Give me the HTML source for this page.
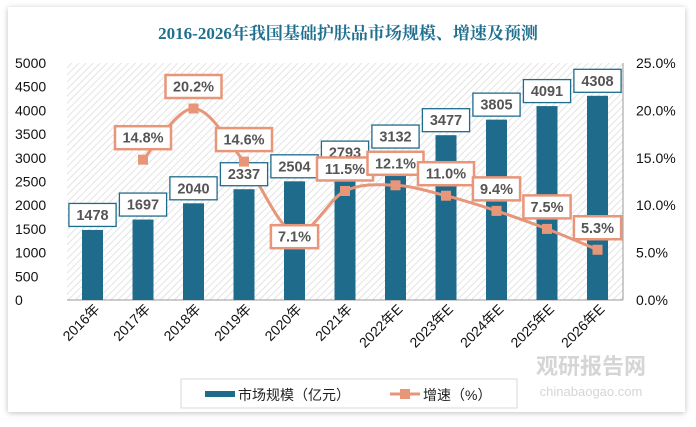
<!DOCTYPE html>
<html><head><meta charset="utf-8"><style>
body{margin:0;background:#fff;width:696px;height:422px;overflow:hidden;font-family:"Liberation Sans","Noto Sans CJK SC",sans-serif}
svg text{font-family:"Liberation Sans","Noto Sans CJK SC",sans-serif}
</style></head><body>
<svg id="c" width="696" height="422" xmlns="http://www.w3.org/2000/svg">
<defs>
<pattern id="hatch" width="5" height="5" patternUnits="userSpaceOnUse" patternTransform="rotate(45)">
<rect width="5" height="5" fill="#fff"/><line x1="0" y1="0" x2="0" y2="5" stroke="#d9d9d9" stroke-width="1.4"/></pattern>
<filter id="sh" x="-5%" y="-5%" width="110%" height="110%"><feDropShadow dx="0" dy="1" stdDeviation="3" flood-color="#000" flood-opacity="0.25"/></filter>
</defs>
<rect x="8" y="7" width="677" height="405" fill="#fff" filter="url(#sh)"/>
<text x="348" y="39" text-anchor="middle" font-size="17" font-weight="bold" fill="#1f6f8f" style="font-family:'Liberation Serif','Noto Serif CJK SC',serif">2016-2026年我国基础护肤品市场规模、增速及预测</text>
<rect x="67" y="63" width="556" height="237" fill="url(#hatch)"/>
<g id="g"></g>
<g>
<rect x="181" y="379" width="336" height="29" fill="#fff" stroke="#d9d9d9"/>
<rect x="205" y="391" width="30" height="6" fill="#1f6b8c"/>
<text x="238" y="400" font-size="14" fill="#222">市场规模（亿元）</text>
<line x1="390" y1="394" x2="420" y2="394" stroke="#e8967a" stroke-width="3"/>
<rect x="400" y="389" width="10" height="10" fill="#e8967a"/>
<text x="423" y="400" font-size="14" fill="#222">增速（%）</text>
</g>
<g opacity="0.35">
<text x="591" y="374" text-anchor="middle" font-size="22" font-weight="bold" fill="#888">观研报告网</text>
<text x="591" y="396" text-anchor="middle" font-size="13" fill="#888">chinabaogao.com</text>
</g>
</svg>
<script>
const categories=["2016年","2017年","2018年","2019年","2020年","2021年","2022年E","2023年E","2024年E","2025年E","2026年E"];
const marketSize=[1478,1697,2040,2337,2504,2793,3132,3477,3805,4091,4308];
const growth=[null,14.8,20.2,14.6,7.1,11.5,12.1,11.0,9.4,7.5,5.3];
const leftTicks=[0,500,1000,1500,2000,2500,3000,3500,4000,4500,5000];
const rightTicks=[0,5,10,15,20,25];
const NS="http://www.w3.org/2000/svg",g=document.getElementById('g');
const x=i=>92.5+50.5*i, yL=v=>300-v/5000*237, yR=v=>300-v/25*237;
function el(t,a,txt){const e=document.createElementNS(NS,t);for(const k in a)e.setAttribute(k,a[k]);if(txt!=null)e.textContent=txt;g.appendChild(e);return e;}
leftTicks.forEach(v=>{const e=el('text',{x:15,y:yL(v)+5,'font-size':14,fill:'#111'},v);});
rightTicks.forEach(v=>{const e=el('text',{x:636,y:yR(v)+5,'font-size':14,fill:'#111'},v.toFixed(1)+'%');});
const ax=el('line',{x1:67,y1:300,x2:623,y2:300,stroke:'#999'});
const ar=el('line',{x1:623,y1:63,x2:623,y2:300,stroke:'#999'});
categories.forEach((c,i)=>{
 const b=el('rect',{x:x(i)-10.5,y:yL(marketSize[i]),width:21,height:300-yL(marketSize[i]),fill:'#1f6b8c'});
 
 const t=el('text',{transform:`translate(${x(i)+8},310) rotate(-45)`,'text-anchor':'end','font-size':14,fill:'#111'},c);
 
});
const pts=growth.map((v,i)=>v==null?null:[x(i),yR(v)]).filter(p=>p);
let d='M'+pts[0];
for(let i=0;i<pts.length-1;i++){const p0=pts[Math.max(0,i-1)],p1=pts[i],p2=pts[i+1],p3=pts[Math.min(pts.length-1,i+2)];
 d+=` C${p1[0]+(p2[0]-p0[0])/6},${p1[1]+(p2[1]-p0[1])/6} ${p2[0]-(p3[0]-p1[0])/6},${p2[1]-(p3[1]-p1[1])/6} ${p2[0]},${p2[1]}`;}
const ln=el('path',{d:d,fill:'none',stroke:'#e8967a','stroke-width':3});
function box(cx,cy,txt,col,name){const w=txt.length*8.8+12;
 const r=el('rect',{x:cx-w/2,y:cy-11.5,width:w,height:23,fill:'#fff',stroke:col,'stroke-width':col=='#e8967a'?2.5:1.3});
 
 const t=el('text',{x:cx,y:cy+5,'text-anchor':'middle','font-size':14.5,'font-weight':'bold',fill:'#555'},txt);
 }
marketSize.forEach((v,i)=>box(x(i),yL(v)-15,String(v),'#1f6b8c','bar-value-label'));
growth.forEach((v,i)=>{if(v==null)return;
 const m=el('rect',{x:x(i)-5,y:yR(v)-5,width:10,height:10,fill:'#e8967a'});});
growth.forEach((v,i)=>{if(v==null)return;box(x(i),yR(v)+(v<8&&i==4?4:-22),v.toFixed(1)+'%','#e8967a','growth-value-label');});
</script>
</body></html>
